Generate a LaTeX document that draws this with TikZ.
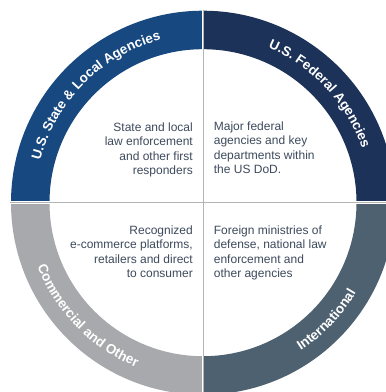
\documentclass[tikz,border=0pt]{standalone}
\usepackage{fontspec}
\setmainfont{Liberation Sans}
\usetikzlibrary{decorations.text}
\definecolor{qtl}{HTML}{17487F}
\definecolor{qtr}{HTML}{1C3259}
\definecolor{qbl}{HTML}{A7A9AC}
\definecolor{qbr}{HTML}{4E6170}
\definecolor{bodytext}{HTML}{3D4A5C}
\definecolor{axisline}{HTML}{B4B4B4}
\begin{document}
\begin{tikzpicture}[x=1pt,y=1pt,
  bodyfont/.style={font=\fontsize{12}{14.5}\selectfont, text=bodytext, inner sep=0pt},
  ringlabel/.style={decorate, decoration={text along path, text align=center, text color=white}}]
\useasboundingbox (0,0) rectangle (386,392);
\clip (0,0) rectangle (386,392);
\fill[white] (0,0) rectangle (386,392);
\begin{scope}[shift={(203,189.3)}]
  \coordinate (c) at (0,0);
  % ring sectors
  \fill[qtr] (0:192) arc[start angle=0,end angle=90,radius=192] -- (90:153.5) arc[start angle=90,end angle=0,radius=153.5] -- cycle;
  \fill[qtl] (90:192) arc[start angle=90,end angle=180,radius=192] -- (180:153.5) arc[start angle=180,end angle=90,radius=153.5] -- cycle;
  \fill[qbl] (180:192) arc[start angle=180,end angle=270,radius=192] -- (270:153.5) arc[start angle=270,end angle=180,radius=153.5] -- cycle;
  \fill[qbr] (270:192) arc[start angle=270,end angle=360,radius=192] -- (0:153.5) arc[start angle=0,end angle=-90,radius=153.5] -- cycle;
  % gaps and axis lines
  \coordinate (top) at (90:193);
  \coordinate (bot) at (270:193);
  \coordinate (lft) at (180:193);
  \coordinate (rgt) at (0:193);
  \draw[white, line width=2.6pt] (top) -- (bot);
  \draw[white, line width=2.6pt] (lft) -- (rgt);
  \draw[axisline, line width=0.9pt] (top) -- (bot);
  \draw[axisline, line width=0.9pt] (lft) -- (rgt);
  % ring labels
  \path[ringlabel, decoration={text={|\bfseries\fontsize{13.5}{14}\selectfont|U.S. State {\&} Local Agencies}}]
     (178:168) arc[start angle=178,end angle=92,radius=168];
  \path[ringlabel, decoration={text={|\bfseries\fontsize{13.5}{14}\selectfont|U.S. Federal Agencies}}]
     (88:168) arc[start angle=88,end angle=-2,radius=168];
  \path[ringlabel, decoration={text={|\bfseries\fontsize{13.5}{14}\selectfont|Commercial and Other}}]
     (182:177.5) arc[start angle=182,end angle=267,radius=177.5];
  \path[ringlabel, decoration={text={|\bfseries\fontsize{13.5}{14}\selectfont|International}}]
     (273:177.5) arc[start angle=273,end angle=360,radius=177.5];
\end{scope}
% quadrant texts
\node[bodyfont, anchor=north east, align=right] (tl) at (193,392-122.3)
  {State and local\\law enforcement\\and other first\\responders};
\node[bodyfont, anchor=north west, align=left] (tr) at (213.7,392-121.3)
  {Major federal\\agencies and key\\departments within\\the US DoD.};
\node[bodyfont, anchor=north east, align=right] (bl) at (193,392-225.5)
  {Recognized\\e-commerce platforms,\\retailers and direct\\to consumer};
\node[bodyfont, anchor=north west, align=left] (br) at (213.7,392-225.5)
  {Foreign ministries of\\defense, national law\\enforcement and\\other agencies};
\end{tikzpicture}
\end{document}
